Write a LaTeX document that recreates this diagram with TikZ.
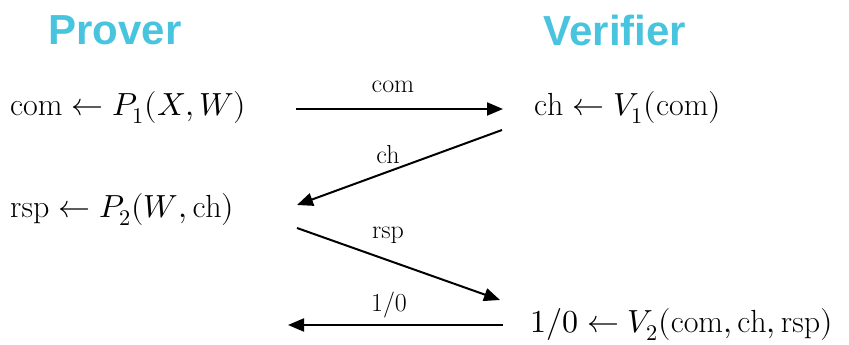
\documentclass[tikz,border=0pt]{standalone}
\usepackage{amsmath}
\usepackage{fontspec}
\usepackage{unicode-math}
\setmathfont{Latin Modern Math}
\usepackage{tikz}
\usetikzlibrary{positioning,arrows.meta,calc}
\newfontfamily\headfont{Liberation Sans}
\definecolor{skyblue}{RGB}{72,196,222}

\begin{document}
\begin{tikzpicture}[x=1pt, y=1pt,
        party/.style={font=\headfont\bfseries\fontsize{42}{46}\selectfont, text=skyblue, inner sep=0pt},
        stepnode/.style={anchor=west, inner sep=0pt, font=\fontsize{32}{38}\selectfont},
        msg/.style={inner sep=0pt, font=\fontsize{26}{30}\selectfont},
        arr/.style={-{Triangle[length=16pt,width=13pt]}, line width=2pt}
    ]
    \useasboundingbox (0,0) rectangle (849,345);
    % parties
    \node[party] (prover) at (115,315) {Prover};
    \node[party] (verifier) at (615,315) {Verifier};
    % computations
    \node[stepnode] (p1) at (10,237) {$\mathrm{com}\leftarrow P_1(X,W)$};
    \node[stepnode] (v1) at (534,237) {$\mathrm{ch}\leftarrow V_1(\mathrm{com})$};
    \node[stepnode] (p2) at (10,135) {$\mathrm{rsp}\leftarrow P_2(W,\mathrm{ch})$};
    \node[stepnode] (v2) at (530,20) {$1/0\leftarrow V_2(\mathrm{com},\mathrm{ch},\mathrm{rsp})$};
    % message ends
    \coordinate (c1s) at (296,236);
    \coordinate (c1e) at (503,236);
    \coordinate (c2s) at (502,215);
    \coordinate (c2e) at (297,140);
    \coordinate (c3s) at (297,117);
    \coordinate (c3e) at (500,45);
    \coordinate (c4s) at (503,20);
    \coordinate (c4e) at (288,20);
    \draw[arr] (c1s) -- (c1e);
    \draw[arr] (c2s) -- (c2e);
    \draw[arr] (c3s) -- (c3e);
    \draw[arr] (c4s) -- (c4e);
    % message labels
    \node[msg] (m1) at (393,258) {com};
    \node[msg] (m2) at (388,190) {ch};
    \node[msg] (m3) at (388,110) {rsp};
    \node[msg] (m4) at (389,40) {1/0};
\end{tikzpicture}
\end{document}
